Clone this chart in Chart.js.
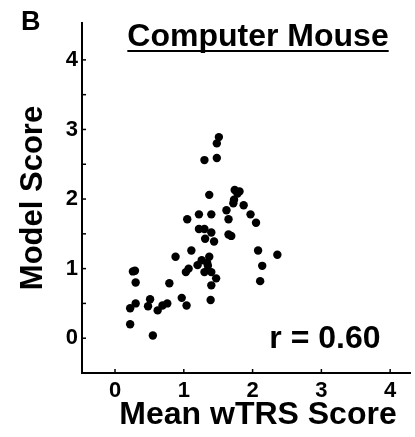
<!DOCTYPE html>
<html>
<head>
<meta charset="utf-8">
<script src="https://cdn.jsdelivr.net/npm/chart.js@4.4.0/dist/chart.umd.min.js"></script>
<style>
html, body { margin: 0; padding: 0; background: #fff; }
#wrap { width: 415px; height: 437px; }
</style>
</head>
<body>
<div id="wrap"><canvas id="scatter" width="415" height="437"></canvas></div>
<script>
// mean wTRS score (x) and model score (y), one entry per item
var wtrsScore = [
	1.51, 1.48, 1.30, 1.48, 1.37, 1.74, 1.81, 1.78, 1.73, 1.72,
	1.87, 1.62, 1.97, 1.22, 1.40, 1.05, 1.65, 2.05, 1.22, 1.30,
	1.40, 1.31, 1.44, 1.65, 1.69, 2.08, 2.36, 1.11, 0.88, 1.37,
	1.20, 1.26, 1.35, 1.30, 1.40, 1.07, 1.03, 2.14, 0.29, 0.26,
	0.30, 0.79, 1.47, 1.40, 2.11, 0.97, 1.04, 1.39, 0.51, 0.48,
	0.30, 0.22, 0.62, 0.69, 0.76, 0.22, 0.55, 1.34
];
var modelScore = [
	2.89, 2.80, 2.56, 2.59, 2.06, 2.13, 2.11, 2.08, 1.99, 1.94,
	1.91, 1.84, 1.78, 1.78, 1.78, 1.71, 1.71, 1.66, 1.57, 1.57,
	1.52, 1.43, 1.39, 1.49, 1.47, 1.26, 1.20, 1.26, 1.17, 1.17,
	1.05, 1.12, 1.04, 0.95, 0.95, 1.00, 0.95, 1.04, 0.97, 0.96,
	0.80, 0.79, 0.86, 0.76, 0.82, 0.58, 0.47, 0.55, 0.56, 0.46,
	0.50, 0.43, 0.40, 0.47, 0.50, 0.20, 0.04, 1.08
];
var xTicks = [0, 1, 2, 3, 4];
var yTicks = [0, 0.5, 1, 1.5, 2, 2.5, 3, 3.5, 4];

var FONT = "'Liberation Sans', Arial, sans-serif";

var points = wtrsScore.map(function (v, i) {
	return { x: v, y: modelScore[i] };
});

// inward tick marks and all the free text
var extras = {
	id: 'extras',
	afterDraw: function (chart) {
		var c = chart.ctx;
		var xs = chart.scales.x, ys = chart.scales.y, a = chart.chartArea;
		c.save();
		c.strokeStyle = '#000';
		c.lineWidth = 1.5;
		xTicks.forEach(function (v) {
			var px = xs.getPixelForValue(v);
			c.beginPath();
			c.moveTo(px, a.bottom);
			c.lineTo(px, a.bottom - 4);
			c.stroke();
		});
		yTicks.forEach(function (v) {
			var py = ys.getPixelForValue(v);
			c.beginPath();
			c.moveTo(a.left, py);
			c.lineTo(a.left + 4, py);
			c.stroke();
		});

		c.fillStyle = '#000';
		c.textBaseline = 'alphabetic';

		c.font = 'bold 27px ' + FONT;
		c.textAlign = 'left';
		c.fillText('B', 21, 30);

		c.font = 'bold 32px ' + FONT;
		c.textAlign = 'center';
		var title = 'Computer Mouse';
		c.fillText(title, 258, 46);
		var w = c.measureText(title).width;
		c.lineWidth = 2;
		c.beginPath();
		c.moveTo(258 - w / 2, 51);
		c.lineTo(258 + w / 2, 51);
		c.stroke();

		c.textAlign = 'right';
		c.fillText('r = 0.60', xs.getPixelForValue(3.86), ys.getPixelForValue(-0.14));

		c.textAlign = 'center';
		c.fillText('Mean wTRS Score', 258, 424);

		c.font = 'bold 31px ' + FONT;
		c.translate(42, 198);
		c.rotate(-Math.PI / 2);
		c.fillText('Model Score', 0, 0);
		c.restore();
	}
};

new Chart(document.getElementById('scatter'), {
	type: 'scatter',
	data: {
		datasets: [{
			data: points,
			backgroundColor: '#000',
			borderWidth: 0,
			pointRadius: 4.2
		}]
	},
	options: {
		responsive: false,
		animation: false,
		layout: { padding: { top: 23, left: 0, right: 0, bottom: 0 } },
		plugins: {
			legend: { display: false },
			tooltip: { enabled: false }
		},
		scales: {
			x: {
				type: 'linear',
				min: -0.48,
				max: 4.3,
				afterBuildTicks: function (s) {
					s.ticks = xTicks.map(function (v) { return { value: v }; });
				},
				afterFit: function (s) { s.height = 64; },
				grid: { display: true, drawOnChartArea: false, drawTicks: false },
				border: { color: '#000', width: 2 },
				ticks: {
					color: '#000',
					padding: 5,
					maxRotation: 0,
					font: { family: FONT, size: 22, weight: 'bold' }
				}
			},
			y: {
				type: 'linear',
				min: -0.5,
				max: 4.53,
				afterBuildTicks: function (s) {
					s.ticks = yTicks.map(function (v) { return { value: v }; });
				},
				afterFit: function (s) { s.width = 82; },
				grid: { display: true, drawOnChartArea: false, drawTicks: false },
				border: { color: '#000', width: 2 },
				ticks: {
					color: '#000',
					padding: 4,
					font: { family: FONT, size: 22, weight: 'bold' },
					callback: function (v) { return v % 1 === 0 ? v : ''; }
				}
			}
		}
	},
	plugins: [extras]
});
</script>
</body>
</html>
